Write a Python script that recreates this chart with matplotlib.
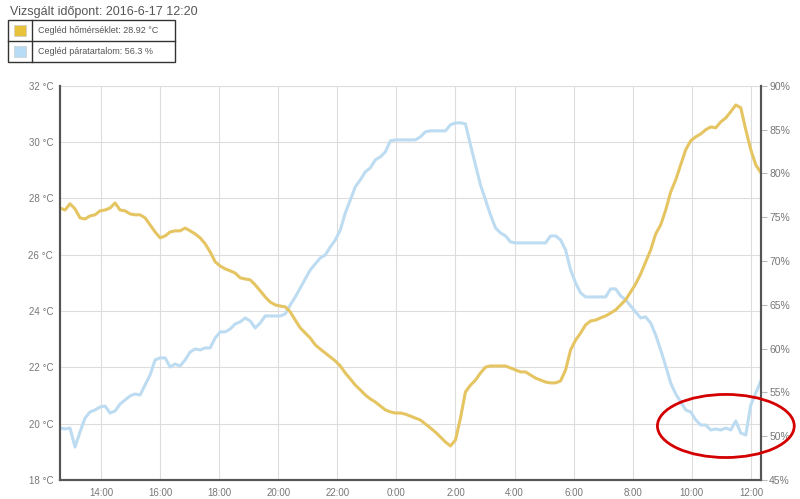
import matplotlib.pyplot as plt
import numpy as np
from matplotlib.patches import Ellipse, Rectangle

plt.rcParams['font.family'] = ['Liberation Sans', 'DejaVu Sans']

# Cegléd, 2016-06-16 12:37 -> 2016-06-17 12:20, ~10 minute readings
temp = [27.66, 27.59, 27.81, 27.63, 27.31, 27.27, 27.38, 27.42, 27.56, 27.59,
        27.66, 27.84, 27.59, 27.56, 27.45, 27.42, 27.42, 27.31, 27.06, 26.81,
        26.60, 26.67, 26.81, 26.85, 26.85, 26.95, 26.85, 26.74, 26.60, 26.39,
        26.10, 25.75, 25.60, 25.50, 25.43, 25.35, 25.18, 25.14, 25.11, 24.93,
        24.72, 24.50, 24.32, 24.22, 24.18, 24.15, 23.97, 23.68, 23.40, 23.22,
        23.04, 22.80, 22.65, 22.51, 22.37, 22.23, 22.05, 21.80, 21.59, 21.37,
        21.20, 21.02, 20.88, 20.77, 20.63, 20.49, 20.42, 20.38, 20.38, 20.34,
        20.27, 20.20, 20.13, 19.99, 19.85, 19.70, 19.53, 19.35, 19.21, 19.42,
        20.20, 21.13, 21.37, 21.55, 21.80, 22.01, 22.05, 22.05, 22.05, 22.05,
        21.98, 21.91, 21.84, 21.84, 21.73, 21.62, 21.55, 21.48, 21.45, 21.45,
        21.52, 21.91, 22.62, 22.97, 23.22, 23.51, 23.65, 23.68, 23.76, 23.83,
        23.93, 24.04, 24.22, 24.40, 24.68, 24.96, 25.32, 25.75, 26.17, 26.74,
        27.06, 27.59, 28.23, 28.66, 29.19, 29.73, 30.05, 30.19, 30.29, 30.44,
        30.54, 30.51, 30.72, 30.86, 31.08, 31.32, 31.22, 30.44, 29.73, 29.19,
        28.92]

humidity = [50.94, 50.83, 50.94, 48.77, 50.48, 52.08, 52.77, 53.00, 53.34, 53.45,
            52.65, 52.88, 53.68, 54.14, 54.60, 54.82, 54.71, 55.85, 57.00, 58.71,
            58.94, 58.94, 57.91, 58.25, 58.02, 58.71, 59.62, 59.96, 59.85, 60.08,
            60.08, 61.22, 61.91, 61.91, 62.25, 62.82, 63.05, 63.50, 63.16, 62.36,
            62.93, 63.73, 63.73, 63.73, 63.73, 63.96, 64.99, 65.90, 66.93, 67.96,
            68.99, 69.67, 70.36, 70.70, 71.61, 72.41, 73.55, 75.50, 76.98, 78.47,
            79.27, 80.18, 80.64, 81.55, 81.89, 82.46, 83.72, 83.83, 83.83, 83.83,
            83.83, 83.83, 84.18, 84.75, 84.86, 84.86, 84.86, 84.86, 85.55, 85.77,
            85.77, 85.66, 83.26, 80.98, 78.69, 76.98, 75.27, 73.78, 73.21, 72.87,
            72.18, 72.07, 72.07, 72.07, 72.07, 72.07, 72.07, 72.07, 72.87, 72.87,
            72.41, 71.27, 68.99, 67.50, 66.36, 65.90, 65.90, 65.90, 65.90, 65.90,
            66.82, 66.82, 66.02, 65.56, 64.87, 64.19, 63.50, 63.62, 62.93, 61.56,
            59.85, 58.02, 56.08, 54.82, 53.91, 53.00, 52.77, 51.86, 51.28, 51.28,
            50.71, 50.83, 50.71, 50.94, 50.71, 51.74, 50.37, 50.14, 53.57, 54.94,
            56.30]

start_hour = 12 + 37 / 60
end_hour = 36 + 20 / 60
x_ticks = [14, 16, 18, 20, 22, 24, 26, 28, 30, 32, 34, 36]
x_labels = ['14:00', '16:00', '18:00', '20:00', '22:00', '0:00', '2:00',
            '4:00', '6:00', '8:00', '10:00', '12:00']
temp_ticks = [18, 20, 22, 24, 26, 28, 30, 32]
hum_ticks = [45, 50, 55, 60, 65, 70, 75, 80, 85, 90]

yellow = '#e5c462'
blue = '#bddcf1'
grey_text = '#777777'

t_temp = np.linspace(start_hour, end_hour, len(temp))
t_hum = np.linspace(start_hour, end_hour, len(humidity))

fig = plt.figure(figsize=(8, 4.99), dpi=100)
ax = fig.add_axes([0.075, 0.038, 0.876, 0.790])
ax2 = ax.twinx()

ax.set_zorder(ax2.get_zorder() + 1)
ax.patch.set_visible(False)

ax.plot(t_temp, temp, color=yellow, lw=2.2, solid_joinstyle='round')
ax2.plot(t_hum, humidity, color=blue, lw=2.2, solid_joinstyle='round')

ax.set_xlim(start_hour, end_hour)
ax.set_ylim(18, 32)
ax2.set_ylim(45, 90)

ax.set_xticks(x_ticks)
ax.set_xticklabels(x_labels)
ax.set_yticks(temp_ticks)
ax.set_yticklabels(['{} °C'.format(v) for v in temp_ticks])
ax2.set_yticks(hum_ticks)
ax2.set_yticklabels(['{}%'.format(v) for v in hum_ticks])

ax2.grid(False)
ax.grid(True, color='#dddddd', lw=0.8)
ax.set_axisbelow(True)
# draw grid on the back axes so it sits under both lines
for v in x_ticks:
    ax2.axvline(v, color='#dddddd', lw=0.8, zorder=0)
ax.grid(False)
for v in temp_ticks:
    ax2.axhline(45 + (v - 18) / 14 * 45, color='#dddddd', lw=0.8, zorder=0)

for a in (ax, ax2):
    for side in ('top',):
        a.spines[side].set_visible(False)
    for side in ('left', 'bottom', 'right'):
        a.spines[side].set_color('#555555')
        a.spines[side].set_linewidth(1.5)

ax.tick_params(axis='both', length=0, labelsize=7, labelcolor=grey_text, pad=6)
ax.tick_params(axis='y', pad=5)
ax2.tick_params(axis='y', length=4, color='#bbbbbb', labelsize=7.5,
                labelcolor=grey_text, pad=2)

# red highlight ellipse
ell = Ellipse((35.15, 19.92), 4.63, 2.24, fill=False, edgecolor='#d40000',
              lw=2, clip_on=False, zorder=10)
ax.add_patch(ell)

# header / legend box
fig.text(0.012, 0.975, 'Vizsgált időpont: 2016-6-17 12:20', fontsize=9,
         color='#555555', va='center', ha='left')
box_l, box_r = 0.010, 0.219
row_h = 0.042
top = 0.960
fig.patches.append(Rectangle((box_l, top - 2 * row_h), box_r - box_l, 2 * row_h,
                             transform=fig.transFigure, fill=False,
                             edgecolor='#333333', lw=1))
fig.lines.append(plt.Line2D([box_l, box_r], [top - row_h, top - row_h],
                            transform=fig.transFigure, color='#333333', lw=1))
fig.lines.append(plt.Line2D([0.040, 0.040], [top, top - 2 * row_h],
                            transform=fig.transFigure, color='#333333', lw=1))
entries = [('Cegléd hőmérséklet: 28.92 °C', '#e8c23c'),
           ('Cegléd páratartalom: 56.3 %', '#b7dcf6')]
for i, (label, col) in enumerate(entries):
    yc = top - row_h * (i + 0.5)
    fig.patches.append(Rectangle((0.018, yc - 0.011), 0.015, 0.022,
                                 transform=fig.transFigure, facecolor=col,
                                 edgecolor='#cccccc', lw=0.5))
    fig.text(0.047, yc, label, fontsize=6.5, color='#555555', va='center')

fig.savefig('out.png', dpi=100)
